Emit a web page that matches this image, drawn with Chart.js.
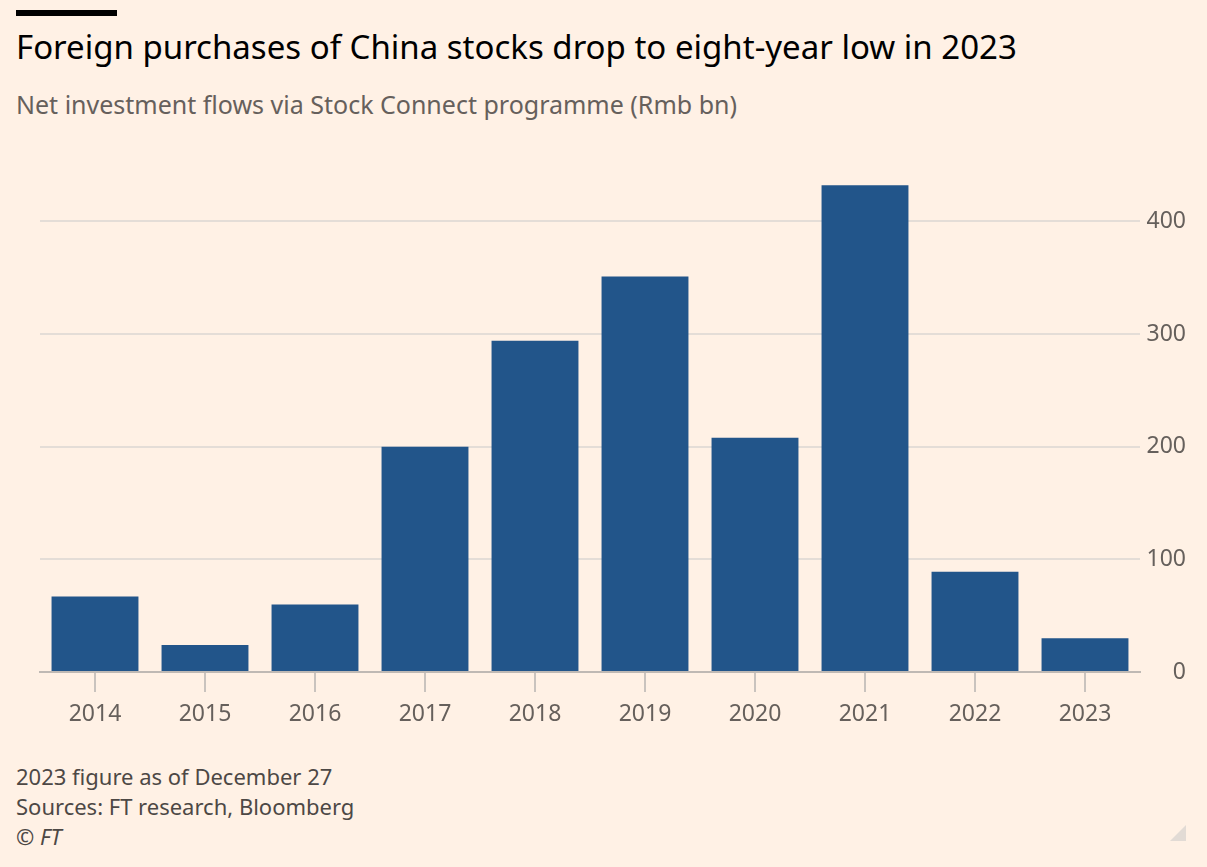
<!DOCTYPE html>
<html>
<head>
<meta charset="utf-8">
<script src="https://cdn.jsdelivr.net/npm/chart.js@4"></script>
<style>
  html, body { margin: 0; padding: 0; }
  body { width: 1207px; height: 867px; background: #fff1e5; position: relative; overflow: hidden; font-family: "Noto Sans", sans-serif; }
  .rule { position: absolute; left: 16px; top: 10px; width: 101px; height: 6px; background: #000; }
  h1 { position: absolute; left: 16px; top: 24px; margin: 0; font-size: 33px; font-weight: 400; color: #000; white-space: nowrap; }
  .sub { position: absolute; left: 16px; top: 87px; margin: 0; font-size: 25px; color: #66605c; white-space: nowrap; }
  .chart-box { position: absolute; left: 0; top: 141px; width: 1207px; height: 620px; }
  .foot { position: absolute; left: 16px; top: 761px; font-size: 22px; line-height: 30px; color: #4d4845; }
  .foot i { font-style: italic; }
  .corner { position: absolute; left: 1170px; top: 825px; width: 0; height: 0; border-left: 16px solid transparent; border-bottom: 16px solid #e2dbd5; }
</style>
</head>
<body>
<div class="rule"></div>
<h1>Foreign purchases of China stocks drop to eight-year low in 2023</h1>
<div class="sub">Net investment flows via Stock Connect programme (Rmb bn)</div>
<div class="chart-box"><canvas id="barChart"></canvas></div>
<div class="foot">2023 figure as of December 27<br>Sources: FT research, Bloomberg<br><i>© FT</i></div>
<div class="corner"></div>
<script>
const years = ['2014', '2015', '2016', '2017', '2018', '2019', '2020', '2021', '2022', '2023'];
const netFlows = [67, 24, 60, 200, 294, 351, 208, 432, 89, 30];
const yTicks = [0, 100, 200, 300, 400];

document.addEventListener('DOMContentLoaded', function() {
    const tickFont = { family: 'Noto Sans', size: 23 };

    new Chart(document.getElementById('barChart'), {
        type: 'bar',
        data: {
            labels: years,
            datasets: [{
                label: 'Net investment flows',
                data: netFlows,
                backgroundColor: '#22558a',
                borderWidth: 0,
                categoryPercentage: 1,
                barPercentage: 0.79,
            }],
        },
        options: {
            responsive: true,
            maintainAspectRatio: false,
            animation: false,
            layout: { padding: { left: 40, top: 24, bottom: 28, right: 21 } },
            plugins: { legend: { display: false }, tooltip: { enabled: false } },
            scales: {
                x: {
                    grid: { offset: false, drawOnChartArea: false, drawTicks: true, tickLength: 20, color: '#c9c3be', lineWidth: 2 },
                    border: { display: true, color: '#bfb9b4', width: 2 },
                    ticks: { font: tickFont, color: '#66605c', padding: 9, maxRotation: 0 },
                    afterFit: function(scale) { scale.height = 61; },
                },
                y: {
                    position: 'right',
                    min: 0,
                    max: 450,
                    grid: { drawTicks: false, color: '#e4ddd7', lineWidth: 2 },
                    border: { display: false },
                    ticks: { font: tickFont, color: '#66605c', padding: 6, crossAlign: 'far', stepSize: 100 },
                    afterBuildTicks: function(scale) {
                        scale.ticks = yTicks.map(v => ({ value: v }));
                    },
                    afterFit: function(scale) { scale.width = 46; },
                },
            },
        },
    });
});
</script>
</body>
</html>
